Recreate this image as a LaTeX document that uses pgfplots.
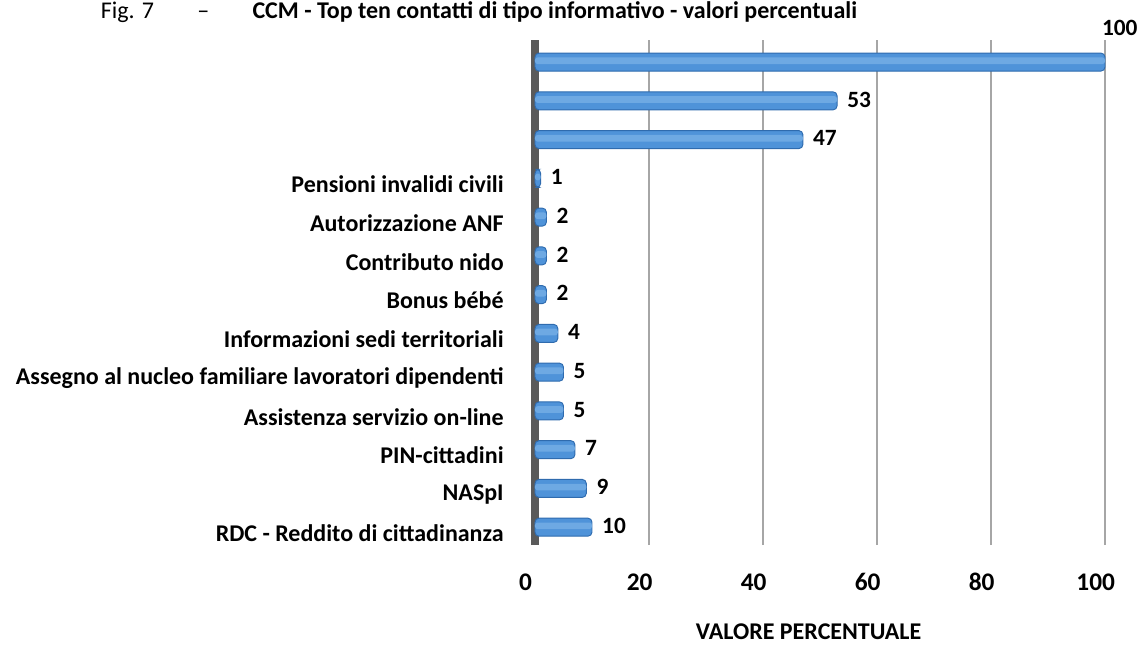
\documentclass[border=0pt]{standalone}
\usepackage{pgfplots}
\pgfplotsset{compat=1.18}
\usepackage{fontspec}
\setmainfont{Carlito}
\definecolor{barblue}{HTML}{4F93D9}
\definecolor{bardark}{HTML}{2F6BAE}
\definecolor{barlight}{HTML}{6EA9E3}
\definecolor{wallgray}{HTML}{5A5A5A}
\definecolor{gridgray}{HTML}{A6A6A6}
\pgfplotstableread{
val pos lab
10 0 10
9 1 9
7 2 7
5 3 5
5 4 5
4 5 4
2 6 2
2 7 2
2 8 2
1 9 1
47 10 47
53 11 53
100 12 {}
}\datatable
\begin{document}
\begin{tikzpicture}
\useasboundingbox (-401.25pt,-75.75pt) rectangle (454.5pt,408.75pt);
\node[anchor=base, font=\fontsize{18}{21}\selectfont] at (-42pt,395pt) {Fig. 7\hspace{1.8em}--\hspace{1.8em}\textbf{CCM - Top ten contatti di tipo informativo - valori percentuali}};
\begin{axis}[
  at={(0pt,0pt)}, anchor=south west,
  scale only axis, width=427.5pt, height=378.75pt,
  xmin=0, xmax=100, ymin=-0.46, ymax=12.57,
  xbar, bar shift=0pt,
  axis x line*=bottom, axis y line*=left,
  x axis line style={draw=none},
  y axis line style={draw=wallgray, line width=5.5pt, -},
  xmajorgrids, grid style={gridgray, line width=1.6pt},
  major tick length=0pt,
  xtick={0,20,...,100},
  ytick={0,...,12},
  yticklabels={RDC - Reddito di cittadinanza, NASpI, PIN-cittadini, Assistenza servizio on-line, Assegno al nucleo familiare lavoratori dipendenti, Informazioni sedi territoriali, Bonus bébé, Contributo nido, Autorizzazione ANF, Pensioni invalidi civili, {}, {}, {}},
  yticklabel style={font=\bfseries\fontsize{18}{21}\selectfont, xshift=-20pt, yshift=-4.5pt},
  xticklabel style={font=\bfseries\fontsize{19}{22}\selectfont, anchor=base, yshift=-34pt, xshift=-7pt},
  /pgf/number format/assume math mode=true,
  xlabel={VALORE PERCENTUALE},
  xlabel style={font=\bfseries\fontsize{18}{21}\selectfont, at={(axis description cs:0.48,0)}, anchor=base, yshift=-71pt},
  clip=false,
]
\addplot[bar width=13.5pt, draw=bardark, line width=0.7pt, fill=barblue, rounded corners=3pt,
  point meta=explicit symbolic, nodes near coords,
  nodes near coords style={font=\bfseries\fontsize{17.5}{20}\selectfont, anchor=west, xshift=4pt, yshift=1pt, black}]
  table[x=val, y=pos, meta=lab] {\datatable};
\addplot[bar width=5pt, bar shift=1pt, draw=none, fill=barlight, rounded corners=2pt]
  table[x=val, y=pos] {\datatable};
\node[font=\bfseries\fontsize{17.5}{20}\selectfont] at (axis cs:102.6,12.88) {100};
\end{axis}
\end{tikzpicture}
\end{document}
